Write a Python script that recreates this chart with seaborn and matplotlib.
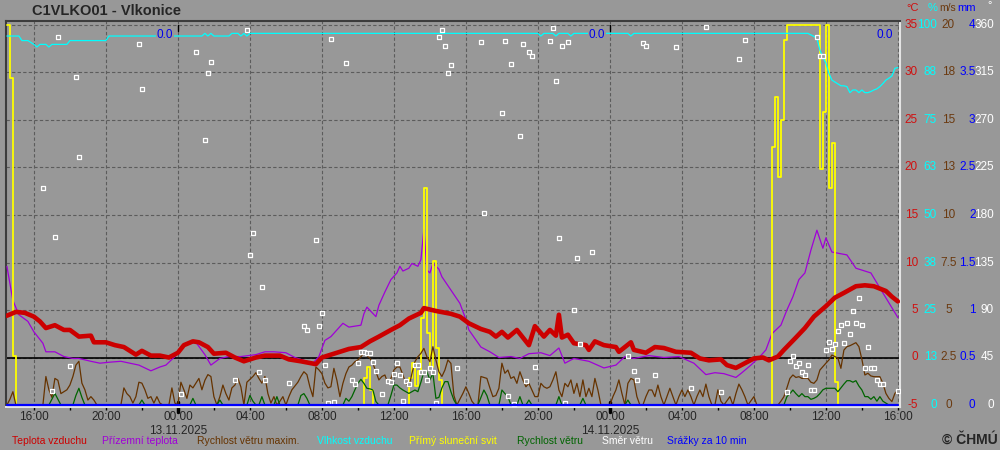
import numpy as np
import pandas as pd
import matplotlib
matplotlib.use('Agg')
import matplotlib.pyplot as plt
import matplotlib.dates as mdates
from matplotlib.ticker import FuncFormatter
import seaborn as sns

# observations every 10 min, slot 0 = 12.11.2025 14:30
START = pd.Timestamp('2025-11-12 14:30')
END = pd.Timestamp('2025-11-14 16:00')

# (slot, value) readings
temp = [(0, 4.4), (3, 4.8), (6, 4.7), (9, 4.3), (11, 3.8), (13, 3.1), (16, 3.4), (19, 2.9), (21, 2.9),
        (24, 2.2), (28, 2.3), (29, 1.6), (33, 1.6), (36, 1.3), (39, 1.1), (43, 0.3), (45, 0.7), (48, 0.2),
        (51, 0.2), (54, 0.0), (57, 0.5), (59, 1.3), (62, 1.7), (64, 1.6), (67, 1.1), (69, 0.4), (73, 0.5),
        (76, 0.0), (79, -0.4), (83, 0.0), (86, 0.2), (91, 0.2), (94, -0.2), (98, -0.4), (103, -0.7),
        (105, 0.0), (108, 0.3), (111, 0.6), (114, 0.9), (118, 1.1), (121, 1.7), (124, 2.2), (128, 2.9),
        (131, 3.4), (134, 4.1), (138, 4.7), (139, 5.2), (143, 4.9), (148, 4.6), (151, 4.3), (154, 3.6),
        (158, 3.0), (161, 2.7), (163, 2.2), (165, 2.7), (167, 2.1), (170, 2.9), (172, 2.1), (174, 1.3),
        (176, 3.3), (179, 2.2), (181, 2.9), (183, 2.3), (184, 4.5), (185, 2.1), (187, 2.4), (189, 1.5),
        (193, 1.3), (194, 0.8), (196, 1.7), (199, 1.3), (203, 1.1), (204, 0.6), (208, 1.6), (209, 0.8),
        (213, 0.5), (216, 1.1), (219, 1.0), (223, 0.6), (228, 0.5), (231, -0.1), (234, -0.3), (238, -0.2),
        (240, -0.8), (243, -1.1), (246, -0.6), (249, -0.1), (252, 0.0), (254, -0.3), (257, 0.1), (259, 0.8),
        (263, 2.1), (266, 3.1), (269, 4.3), (273, 5.4), (276, 6.3), (279, 6.8), (283, 7.5), (286, 7.6),
        (289, 7.5), (293, 7.0), (295, 6.4), (297, 5.9)]

ground_temp = [(0, 9.6), (1, 7.8), (2, 6.0), (4, 4.5), (7, 3.8), (9, 2.7), (12, 1.5), (13, 0.6), (16, 0.6),
               (19, 0.1), (22, -0.1), (24, -0.1), (28, -0.4), (31, -0.6), (34, -0.5), (38, -0.4), (41, -0.6),
               (44, -0.8), (48, -1.4), (51, -1.0), (53, -0.8), (56, 0.1), (59, 1.3), (63, 1.6), (66, 0.3),
               (68, -0.8), (71, -0.1), (74, 0.1), (78, 0.1), (83, 0.3), (86, 0.6), (89, 0.6), (93, 0.5),
               (96, 0.0), (99, -0.3), (102, -0.6), (104, 0.1), (106, 1.8), (108, 2.2), (112, 3.6), (114, 3.2),
               (118, 3.4), (119, 4.6), (120, 5.3), (123, 4.3), (124, 5.5), (126, 6.9), (128, 8.2), (130, 8.9),
               (131, 9.6), (132, 9.1), (134, 9.4), (135, 9.9), (137, 9.6), (138, 10.3), (139, 13.5), (140, 9.2),
               (141, 8.9), (142, 9.9), (144, 9.3), (145, 8.5), (148, 7.1), (151, 5.7), (153, 4.0), (154, 2.9),
               (158, 1.1), (161, 0.6), (164, 0.0), (168, 0.1), (171, -0.1), (174, 0.4), (178, 0.5), (181, 0.2),
               (184, 1.0), (186, -0.6), (189, -0.1), (194, -0.4), (199, -1.1), (203, -0.8), (206, 0.1),
               (209, -0.1), (214, 0.2), (219, 0.0), (224, 0.1), (229, -0.6), (233, -1.8), (236, -1.6),
               (239, -1.7), (243, -2.1), (245, -1.6), (248, -0.8), (251, 0.1), (253, 0.8), (255, 2.5),
               (258, 3.4), (260, 5.0), (262, 6.4), (264, 8.2), (266, 8.9), (268, 11.3), (270, 13.4),
               (272, 11.5), (273, 12.6), (275, 11.1), (280, 10.8), (283, 9.4), (288, 8.9), (292, 6.8), (297, 4.2)]

humidity = [(0, 97.1), (4, 97.1), (5, 95.9), (7, 95.9), (8, 95.4), (9, 94.9), (10, 94.2), (11, 94.9), (13, 94.9),
            (14, 94.2), (15, 94.9), (20, 94.9), (21, 95.9), (33, 95.9), (34, 97.1), (65, 97.1), (66, 97.8),
            (67, 97.1), (68, 97.8), (69, 97.1), (74, 97.1), (75, 97.8), (77, 97.8), (78, 97.1), (79, 97.8),
            (80, 97.1), (81, 97.8), (177, 97.8), (178, 97.1), (179, 97.8), (182, 97.8), (183, 97.1),
            (184, 97.8), (187, 97.8), (188, 97.1), (189, 97.8), (207, 97.8), (208, 97.1), (209, 97.8),
            (267, 97.8), (268, 97.4), (269, 97.0), (270, 96.5), (271, 93.4), (272, 91.5), (273, 90.0),
            (274, 87.3), (275, 85.5), (276, 85.0), (277, 84.5), (278, 84.0), (279, 84.0), (280, 83.8),
            (281, 82.2), (282, 82.9), (283, 82.9), (284, 82.2), (285, 82.9), (286, 82.2), (287, 82.2),
            (288, 82.5), (289, 82.9), (290, 83.2), (291, 83.8), (292, 84.6), (293, 85.5), (294, 86.0),
            (295, 86.6), (296, 88.6), (297, 88.8)]

sunshine = [(0, 10), (1, 8.6), (2, 1.3), (3, 0), (118, 0), (119, 0.7), (120, 1.0), (121, 0.4), (122, 0),
            (133, 0), (134, 0.7), (135, 1.1), (136, 0.5), (137, 0.9), (138, 2.3), (139, 5.7), (140, 1.9),
            (141, 1.0), (142, 3.8), (143, 1.5), (144, 0.66), (145, 0), (254, 0), (255, 6.8), (256, 8.1),
            (257, 6.0), (258, 7.5), (259, 9.6), (260, 10), (270, 10), (271, 6.2), (272, 7.7), (273, 10),
            (274, 5.7), (275, 6.9), (276, 0.6), (277, 0), (297, 0)]

wind_gust = [(0, 0), (1, 0.3), (2, 0.7), (3, 0), (12, 0), (13, 1.5), (14, 0.8), (15, 0.4), (16, 1.4), (17, 1.3),
             (18, 0.6), (19, 0.7), (20, 0.8), (21, 1.05), (22, 1.5), (23, 2.1), (24, 2.3), (25, 1.15), (26, 0.8),
             (27, 0.26), (28, 0.44), (29, 0.26), (30, 0), (38, 0), (39, 0.9), (40, 0.6), (41, 0.44), (42, 0.1),
             (43, 0.44), (44, 1.2), (45, 1.15), (46, 0.8), (47, 0.35), (48, 0.44), (49, 0.1), (50, 0.44),
             (51, 0.1), (52, 0), (54, 0), (55, 0.9), (56, 0.1), (57, 0), (58, 1.2), (59, 0.8), (60, 0.35),
             (61, 1.05), (62, 0.9), (63, 1.15), (64, 1.4), (65, 0.8), (66, 1.3), (67, 1.6), (68, 1.5),
             (69, 0.44), (70, 0), (71, 0.44), (72, 1.05), (73, 0.6), (74, 0.26), (75, 0.9), (76, 1.05),
             (77, 1.4), (78, 0.95), (79, 0), (80, 1.2), (81, 1.35), (82, 1.5), (83, 1.7), (84, 1.4), (85, 1.15),
             (86, 1.5), (87, 0.6), (88, 0.1), (89, 0.44), (90, 0), (91, 0.2), (92, 0.44), (93, 0), (94, 0.44),
             (95, 0.8), (96, 1.0), (97, 1.2), (98, 1.5), (99, 1.75), (100, 1.6), (101, 0.95), (102, 0.44),
             (103, 2.0), (104, 1.85), (105, 1.65), (106, 1.15), (107, 0.9), (108, 0.96), (109, 1.93),
             (110, 1.3), (111, 0.44), (112, 1.14), (113, 1.65), (114, 2.0), (115, 2.1), (116, 2.28),
             (117, 2.37), (118, 2.54), (119, 2.72), (120, 2.6), (121, 2.46), (122, 2.19), (123, 1.75),
             (124, 1.32), (125, 1.5), (126, 1.58), (127, 1.14), (128, 1.4), (129, 1.84), (130, 2.0), (131, 2.0),
             (132, 1.58), (133, 1.14), (134, 0.96), (135, 1.65), (136, 2.28), (137, 2.54), (138, 2.72),
             (139, 2.98), (140, 2.54), (141, 2.28), (142, 3.07), (143, 2.37), (144, 1.75), (145, 1.5),
             (146, 1.84), (147, 2.37), (148, 2.19), (149, 0.5), (150, 0), (151, 0.3), (152, 0.61), (153, 0.96),
             (154, 0.6), (155, 0.2), (156, 0), (157, 0), (158, 1.5), (159, 1.45), (160, 1.4), (161, 0.9),
             (162, 0.44), (163, 0.5), (164, 0.88), (165, 2.2), (166, 1.67), (167, 1.84), (168, 1.4),
             (169, 1.49), (170, 1.14), (171, 1.75), (172, 1.32), (173, 0.96), (174, 1.14), (175, 0.79),
             (176, 0.44), (177, 0.44), (178, 1.14), (179, 0.96), (180, 0.88), (181, 0.96), (182, 1.32),
             (183, 1.75), (184, 0.79), (185, 0.44), (186, 1.14), (187, 0.96), (188, 1.32), (189, 0.61),
             (190, 1.14), (191, 0.44), (192, 1.32), (193, 0.44), (194, 0.88), (195, 0.44), (196, 1.4),
             (197, 0.79), (198, 0), (201, 0), (202, 0.44), (203, 0.79), (204, 1.32), (205, 0.61), (206, 0),
             (207, 1.14), (208, 1.4), (209, 1.32), (210, 0.44), (211, 0), (212, 0), (213, 0.44), (214, 0.79),
             (215, 0.79), (216, 0.44), (217, 1.05), (218, 0.44), (219, 0), (220, 0.44), (221, 0.88),
             (222, 0.44), (223, 0), (224, 0.44), (225, 0.79), (226, 0.44), (227, 0.79), (228, 0.44), (229, 0),
             (230, 0.44), (231, 0.79), (232, 0.44), (233, 1.1), (234, 0.44), (235, 0), (236, 0), (237, 0.8),
             (238, 0.2), (239, 0), (241, 0.44), (242, 0), (243, 0.6), (244, 1.1), (245, 0.8), (246, 0.44),
             (247, 0), (249, 0.44), (250, 0), (257, 0), (258, 0.2), (259, 0.44), (260, 0.9), (261, 1.4),
             (262, 1.58), (263, 1.45), (264, 1.49), (265, 1.4), (266, 1.4), (267, 1.4), (268, 1.2), (269, 1.14),
             (270, 1.32), (271, 1.84), (272, 2.02), (273, 2.2), (274, 2.37), (275, 2.63), (276, 2.55),
             (277, 2.46), (278, 1.93), (279, 2.89), (280, 3.07), (281, 3.12), (282, 3.2), (283, 3.28),
             (284, 3.07), (285, 2.4), (286, 1.58), (287, 1.67), (288, 1.53), (289, 1.49), (290, 1.49),
             (291, 1.49), (292, 1.14), (293, 0.61), (294, 0.35), (295, 0.18), (296, 0.61), (297, 0.79)]

wind_speed = [(0, 0), (14, 0), (15, 0.3), (16, 0.61), (17, 0.3), (18, 0), (22, 0), (23, 0.5), (24, 0.88), (25, 0.4),
              (26, 0), (44, 0), (45, 0.26), (46, 0), (61, 0), (62, 0.35), (63, 0), (70, 0), (71, 0.26), (72, 0),
              (80, 0), (81, 0.5), (82, 0.2), (83, 0), (84, 0), (85, 0.44), (86, 0), (89, 0), (90, 0.44), (91, 0),
              (97, 0), (98, 0.5), (99, 0.6), (100, 0.35), (101, 0), (112, 0), (113, 0.35), (114, 0.2),
              (115, 0.44), (116, 0.8), (117, 1.14), (118, 1.35), (119, 1.14), (120, 0.88), (121, 0.85),
              (122, 0.79), (123, 0.18), (124, 0), (127, 0), (128, 0.5), (129, 1.05), (130, 1.05), (131, 0.9),
              (132, 0.79), (133, 0.7), (134, 0.61), (135, 0.7), (136, 0.79), (137, 0.7), (138, 1.2), (139, 1.75),
              (140, 1.75), (141, 1.32), (142, 1.67), (143, 0.35), (144, 0.4), (145, 0.9), (146, 1.23),
              (147, 1.23), (148, 0.7), (149, 0.26), (150, 0), (157, 0), (158, 0.4), (159, 0.79), (160, 0.5),
              (161, 0), (164, 0), (165, 0.79), (166, 0.6), (167, 0.44), (168, 0), (170, 0), (171, 0.44), (172, 0),
              (173, 0), (174, 0.26), (175, 0), (183, 0), (184, 0.44), (185, 0), (191, 0), (192, 0.35), (193, 0),
              (206, 0), (207, 0.26), (208, 0), (259, 0), (260, 0.44), (261, 0.6), (262, 0.79), (263, 0.6),
              (264, 0.44), (265, 0.6), (266, 0.44), (267, 0.44), (268, 0.3), (269, 0.35), (270, 0.44),
              (271, 0.6), (272, 0.8), (273, 0.88), (274, 0.88), (275, 0.88), (276, 0.88), (277, 0.7), (278, 0.9),
              (279, 1.1), (280, 1.28), (281, 1.28), (282, 1.2), (283, 1.28), (284, 1.0), (285, 0.79),
              (286, 0.44), (287, 0.44), (288, 0.3), (289, 0.44), (290, 0.2), (291, 0.44), (292, 0.2), (293, 0.1),
              (294, 0), (297, 0)]

wind_dir = [(12, 206), (15, 13), (16, 159), (17, 349), (21, 37), (23, 311), (24, 235), (44, 342), (45, 299),
            (58, 10), (63, 334), (66, 251), (67, 315), (68, 325), (76, 24), (80, 355), (81, 142), (82, 163),
            (84, 31), (85, 112), (86, 24), (94, 21), (99, 75), (100, 71), (103, 156), (104, 75), (105, 87),
            (106, 38), (107, 2), (108, 347), (109, 3), (113, 324), (115, 24), (116, 20), (117, 40), (118, 50),
            (119, 50), (120, 49), (121, 49), (122, 41), (123, 32), (125, 10), (127, 23), (128, 22), (129, 29),
            (130, 40), (131, 28), (132, 4), (133, 23), (134, 20), (136, 38), (137, 38), (138, 31), (139, 31),
            (140, 24), (141, 35), (142, 31), (143, 2), (144, 349), (145, 355), (146, 340), (147, 315),
            (148, 322), (150, 35), (158, 344), (159, 182), (165, 277), (166, 345), (167, 9), (168, 323),
            (169, 1), (171, 255), (172, 342), (173, 23), (174, 334), (175, 331), (176, 36), (181, 345),
            (182, 357), (183, 307), (184, 158), (185, 340), (186, 2), (187, 344), (189, 90), (190, 139),
            (191, 58), (195, 145), (207, 46), (209, 32), (210, 24), (212, 343), (213, 340), (216, 28),
            (223, 339), (228, 16), (233, 358), (238, 12), (244, 328), (246, 346), (260, 12), (261, 42),
            (262, 46), (263, 37), (264, 40), (265, 31), (266, 28), (267, 38), (268, 14), (269, 14), (270, 349),
            (271, 331), (272, 331), (273, 52), (274, 60), (275, 53), (276, 58), (277, 70), (278, 76), (279, 59),
            (280, 78), (281, 67), (282, 89), (283, 78), (284, 101), (285, 76), (286, 35), (287, 55), (288, 35),
            (289, 35), (290, 24), (291, 20), (292, 20), (297, 13)]

precip = [(0, 0.0), (297, 0.0)]
daily_precip = ['0.0', '0.0', '0.0']
daily_end = ['2025-11-13 00:00', '2025-11-14 00:00', '2025-11-14 16:00']

temp_ticks = [35, 30, 25, 20, 15, 10, 5, 0, -5]
hum_ticks = ['100', '88', '75', '63', '50', '38', '25', '13', '0']
wind_ticks = ['20', '18', '15', '13', '10', '7.5', '5', '2.5', '0']
mm_ticks = ['4', '3.5', '3', '2.5', '2', '1.5', '1', '0.5', '0']
dir_ticks = ['360', '315', '270', '225', '180', '135', '90', '45', '0']

BG = '#989898'
RED = '#cc0000'
PURPLE = '#a000d8'
BROWN = '#663300'
CYAN = '#00ffff'
YELLOW = '#ffff00'
GREEN = '#006400'
BLUE = '#0000ff'


def frame(pairs):
    slots, vals = zip(*pairs)
    t = START + pd.to_timedelta(np.array(slots) * 10, unit='min')
    return pd.DataFrame({'time': t, 'val': vals})


sns.set_style('white')
plt.rcParams['font.family'] = ['Liberation Sans', 'DejaVu Sans']

fig = plt.figure(figsize=(10, 4.5), dpi=100, facecolor=BG)
ax = fig.add_axes([6 / 1000, 1 - 406.5 / 450, 894 / 1000, 385.5 / 450])
ax.set_facecolor(BG)
T_LO, T_HI = -5 - 1.5 / 9.5, 35 + 4 / 9.5
ax.set_ylim(T_LO, T_HI)


def overlay(top):
    # twin axis whose 0..top range spans the -5..35 degC grid
    tw = ax.twinx()
    tw.set_ylim((T_LO + 5) / 40 * top, (T_HI + 5) / 40 * top)
    tw.set_axis_off()
    return tw


ax_g = overlay(40)
ax_g.set_ylim(T_LO, T_HI)
sns.lineplot(data=frame(ground_temp), x='time', y='val', ax=ax_g, color=PURPLE, lw=0.9, estimator=None)

ax_sun = overlay(10)
sns.lineplot(data=frame(sunshine), x='time', y='val', ax=ax_sun, color=YELLOW, lw=1.3,
             drawstyle='steps-post', estimator=None)

ax_hum = overlay(100)
sns.lineplot(data=frame(humidity), x='time', y='val', ax=ax_hum, color=CYAN, lw=0.9, estimator=None)
for lab, d in zip(daily_precip, daily_end):
    ax_hum.text(pd.Timestamp(d) - pd.Timedelta(minutes=15), 97.4, lab, color='#0000ee', fontsize=8.5,
                ha='right', va='center', zorder=5,
                bbox=dict(facecolor=BG, edgecolor='none', pad=0.6))

ax_w = overlay(20)
sns.lineplot(data=frame(wind_gust), x='time', y='val', ax=ax_w, color=BROWN, lw=0.9, estimator=None)
sns.lineplot(data=frame(wind_speed), x='time', y='val', ax=ax_w, color=GREEN, lw=0.9, estimator=None)

ax_t = overlay(40)
ax_t.set_ylim(T_LO, T_HI)
sns.lineplot(data=frame(temp), x='time', y='val', ax=ax_t, color=RED, lw=3.3, estimator=None)

ax_d = overlay(360)
sns.scatterplot(data=frame(wind_dir), x='time', y='val', ax=ax_d, marker='s', s=9, color=BG,
                edgecolor='white', linewidth=0.9, zorder=5)

ax_mm = overlay(4)
sns.lineplot(data=frame(precip), x='time', y='val', ax=ax_mm, color=BLUE, lw=1.6, estimator=None)

# main axis: grid, zero line, time ticks
ax.axhline(0, color='black', lw=1.2)
midnights = [pd.Timestamp('2025-11-13'), pd.Timestamp('2025-11-14')]
for m in midnights:
    ax.axvline(m, ymin=-0.014, ymax=0.012, color='black', lw=2.5, clip_on=False)
    ax.axvline(m, ymin=0.974, ymax=0.99, color='black', lw=1)

ax.set_xlim(START - pd.Timedelta(minutes=3), END + pd.Timedelta(minutes=7))
ax.xaxis.set_major_locator(mdates.HourLocator(byhour=range(0, 24, 4)))
ax.xaxis.set_minor_locator(mdates.HourLocator(byhour=range(0, 24, 2)))


def fmt(x, pos):
    d = mdates.num2date(x)
    if d.hour == 0:
        return d.strftime('%H:%M\n%d.%m.%Y')
    return d.strftime('%H:%M')


ax.xaxis.set_major_formatter(FuncFormatter(fmt))
ax.set_yticks(temp_ticks)
ax.tick_params(axis='y', length=0, labelleft=False)
ax.tick_params(axis='x', which='both', direction='inout', length=5, width=1, color='black',
               labelsize=8.5, pad=1, bottom=True)
ax.set_xlabel('')
ax.set_ylabel('')
ax.grid(True, which='major', color='#5c5c5c', linestyle=(0, (3, 2)), linewidth=0.8)
ax.set_axisbelow(True)
for side in ['top', 'left']:
    ax.spines[side].set_color('#3c3c3c')
    ax.spines[side].set_linewidth(1.5)
for side in ['bottom', 'right']:
    ax.spines[side].set_color('#e4e4e4')
    ax.spines[side].set_linewidth(1.5)

# right-hand scales
tr = ax.get_yaxis_transform()


def ax_x(px):
    return (px - 6) / 894


for t, h, w, m, d in zip(temp_ticks, hum_ticks, wind_ticks, mm_ticks, dir_ticks):
    ax.text(ax_x(918), t, str(t), transform=tr, color='#d01010', fontsize=8.5, ha='right', va='center')
    ax.text(ax_x(937), t, h, transform=tr, color=CYAN, fontsize=8.5, ha='right', va='center')
    ax.text(ax_x(948.5), t, w, transform=tr, color='#6b3a10', fontsize=8.5, ha='center', va='center')
    ax.text(ax_x(975.5), t, m, transform=tr, color=BLUE, fontsize=8.5, ha='right', va='center')
    ax.text(ax_x(994), t, d, transform=tr, color='white', fontsize=8.5, ha='right', va='center')

hy = (406.5 - 8) / 385.5
ax.text(ax_x(919), hy, '°C', transform=ax.transAxes, color='#d01010', fontsize=8, ha='right', va='center')
ax.text(ax_x(937), hy, '%', transform=ax.transAxes, color=CYAN, fontsize=8, ha='right', va='center')
ax.text(ax_x(948), hy, 'm/s', transform=ax.transAxes, color='#6b3a10', fontsize=7.5, ha='center', va='center')
ax.text(ax_x(975.5), hy, 'mm', transform=ax.transAxes, color=BLUE, fontsize=8, ha='right', va='center')
ax.text(ax_x(992), hy + 0.008, '°', transform=ax.transAxes, color='white', fontsize=8, ha='right', va='center')

fig.text(32 / 1000, 1 - 11 / 450, 'C1VLKO01 - Vlkonice', fontsize=10.5, fontweight='bold', va='center')

legend_items = [('Teplota vzduchu', RED, 12), ('Přízemní teplota', PURPLE, 102),
                ('Rychlost větru maxim.', BROWN, 197), ('Vlhkost vzduchu', CYAN, 317),
                ('Přímý sluneční svit', YELLOW, 409), ('Rychlost větru', GREEN, 517),
                ('Směr větru', 'white', 602), ('Srážky za 10 min', BLUE, 667)]
for label, col, px in legend_items:
    fig.text(px / 1000, 1 - 441 / 450, label, color=col, fontsize=7.5, va='center')
fig.text(998 / 1000, 1 - 440 / 450, '© ČHMÚ', fontsize=10, fontweight='bold', ha='right', va='center')

fig.savefig('out.png', dpi=100, facecolor=BG)
